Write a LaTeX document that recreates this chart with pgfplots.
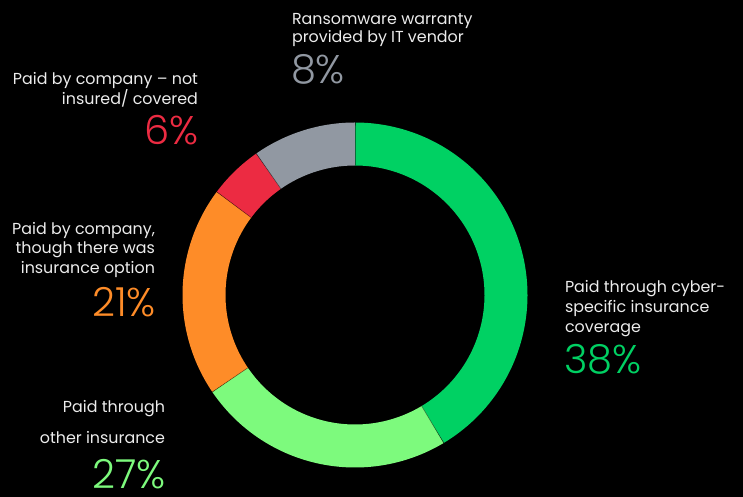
\documentclass[border=0pt]{standalone}
\usepackage{pgfplots}
\pgfplotsset{compat=1.18}
\usepackage{pgfplotstable}
\usepackage{fontspec}
\setmainfont{Poppins}
\newfontfamily\pctfont{Poppins}[UprightFont={* Light}]
\definecolor{cgreen}{RGB}{0,209,99}
\definecolor{clgreen}{RGB}{125,250,125}
\definecolor{corange}{RGB}{254,140,40}
\definecolor{cred}{RGB}{236,43,66}
\definecolor{cgray}{RGB}{145,152,162}
\definecolor{ctext}{RGB}{236,236,236}
% measured shares of the ring (degrees / 3.6), clockwise from top
\pgfplotstableread{
seg share cum
green 41.4 0
lightgreen 24.1 41.4
orange 19.7 65.5
red 5.1 85.2
gray 9.7 90.3
}\shares
\newcommand\ringcx{355}
\newcommand\ringcy{202}
\newcommand\ringr{151}
\tikzset{lbl/.style={text=ctext, inner sep=0pt, outer sep=0pt, font=\fontsize{15.9}{18}\selectfont},
  pct/.style={inner sep=0pt, outer sep=0pt, font=\pctfont\fontsize{40}{40}\selectfont},
  sep/.style={black, opacity=0.45, line width=0.6pt, samples=2, domain=129.5:172.5}}
\begin{document}
\begin{tikzpicture}
\fill[black] (0,0) rectangle (743pt,497pt);
\useasboundingbox (0,0) rectangle (743pt,497pt);
\begin{axis}[hide axis, scale only axis, width=743pt, height=497pt,
  xmin=0, xmax=743, ymin=0, ymax=497, clip=false]
% ring segments
\pgfplotstablegetelem{0}{cum}\of\shares \let\cumA\pgfplotsretval
\pgfplotstablegetelem{0}{share}\of\shares \let\shA\pgfplotsretval
\addplot[cgreen, line width=43pt, domain={90-3.6*\cumA}:{90-3.6*(\cumA+\shA)}, samples=120] ({\ringcx+\ringr*cos(x)},{\ringcy+\ringr*sin(x)});
\pgfplotstablegetelem{1}{cum}\of\shares \let\cumB\pgfplotsretval
\pgfplotstablegetelem{1}{share}\of\shares \let\shB\pgfplotsretval
\addplot[clgreen, line width=43pt, domain={90-3.6*\cumB}:{90-3.6*(\cumB+\shB)}, samples=100] ({\ringcx+\ringr*cos(x)},{\ringcy+\ringr*sin(x)});
\pgfplotstablegetelem{2}{cum}\of\shares \let\cumC\pgfplotsretval
\pgfplotstablegetelem{2}{share}\of\shares \let\shC\pgfplotsretval
\addplot[corange, line width=43pt, domain={90-3.6*\cumC}:{90-3.6*(\cumC+\shC)}, samples=100] ({\ringcx+\ringr*cos(x)},{\ringcy+\ringr*sin(x)});
\pgfplotstablegetelem{3}{cum}\of\shares \let\cumD\pgfplotsretval
\pgfplotstablegetelem{3}{share}\of\shares \let\shD\pgfplotsretval
\addplot[cred, line width=43pt, domain={90-3.6*\cumD}:{90-3.6*(\cumD+\shD)}, samples=40] ({\ringcx+\ringr*cos(x)},{\ringcy+\ringr*sin(x)});
\pgfplotstablegetelem{4}{cum}\of\shares \let\cumE\pgfplotsretval
\pgfplotstablegetelem{4}{share}\of\shares \let\shE\pgfplotsretval
\addplot[cgray, line width=43pt, domain={90-3.6*\cumE}:{90-3.6*(\cumE+\shE)}, samples=60] ({\ringcx+\ringr*cos(x)},{\ringcy+\ringr*sin(x)});
% thin separators between segments
\addplot[sep] ({\ringcx+x*cos(90-3.6*\cumB)},{\ringcy+x*sin(90-3.6*\cumB)});
\addplot[sep] ({\ringcx+x*cos(90-3.6*\cumC)},{\ringcy+x*sin(90-3.6*\cumC)});
\addplot[sep] ({\ringcx+x*cos(90-3.6*\cumD)},{\ringcy+x*sin(90-3.6*\cumD)});
\addplot[sep] ({\ringcx+x*cos(90-3.6*\cumE)},{\ringcy+x*sin(90-3.6*\cumE)});
\addplot[sep] ({\ringcx+x*cos(90-3.6*\cumA)},{\ringcy+x*sin(90-3.6*\cumA)});
% labels
\node[lbl, anchor=base west] at (axis cs:292,472.5) {Ransomware warranty};
\node[lbl, anchor=base west] at (axis cs:292,454.5) {provided by IT vendor};
\node[pct, anchor=base west, text=cgray] at (axis cs:291,413.7) {8\%};
\node[lbl, anchor=base east] at (axis cs:198,412.7) {Paid by company -- not};
\node[lbl, anchor=base east] at (axis cs:198,392.2) {insured/ covered};
\node[pct, anchor=base east, text=cred] at (axis cs:199,352) {6\%};
\node[lbl, anchor=base east] at (axis cs:155,262.7) {Paid by company,};
\node[lbl, anchor=base east] at (axis cs:155,243.2) {though there was};
\node[lbl, anchor=base east] at (axis cs:155,223.7) {insurance option};
\node[pct, anchor=base east, text=corange] at (axis cs:156,180.3) {21\%};
\node[lbl, anchor=base east] at (axis cs:165,84) {Paid through};
\node[lbl, anchor=base east] at (axis cs:165,53) {other insurance};
\node[pct, anchor=base east, text=clgreen] at (axis cs:166,8.5) {27\%};
\node[lbl, anchor=base west] at (axis cs:565,204.7) {Paid through cyber-};
\node[lbl, anchor=base west] at (axis cs:565,184.5) {specific insurance};
\node[lbl, anchor=base west] at (axis cs:565,164.8) {coverage};
\node[pct, anchor=base west, text=cgreen] at (axis cs:564,123.7) {38\%};
\end{axis}
\end{tikzpicture}
\end{document}
